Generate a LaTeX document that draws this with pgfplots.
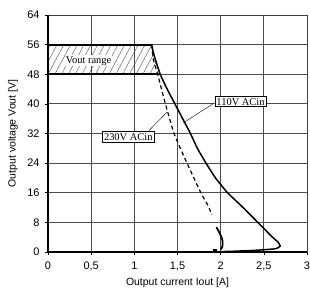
\documentclass[border=0pt]{standalone}
\usepackage{pgfplots}
\pgfplotsset{compat=1.18}
\usepackage{fontspec}
\setmainfont{Liberation Sans}
\newfontfamily\seriffont{Liberation Serif}
\usetikzlibrary{patterns.meta}
\begin{document}
\begin{tikzpicture}
\begin{axis}[
  scale only axis,
  width=259bp, height=237bp,
  xmin=0, xmax=3, ymin=0, ymax=64,
  xtick={0,0.5,...,3}, ytick={0,8,...,64},
  /pgf/number format/use comma,
  /pgf/number format/assume math mode=true,
  ticklabel style={font=\fontsize{11}{12}\selectfont},
  xticklabel style={yshift=-3bp},
  yticklabel style={xshift=-2bp},
  every axis x label/.style={at={(axis description cs:0.5,-0.13)}, anchor=center,
     font=\fontsize{10.5}{12}\selectfont},
  every axis y label/.style={at={(axis description cs:-0.135,0.5)}, anchor=center, rotate=90,
     font=\fontsize{10.5}{12}\selectfont},
  xlabel={Output current Iout [A]},
  ylabel={Output voltage Vout [V]},
  tick align=outside, tick pos=left,
  major tick length=3pt,
  tick style={black, line width=0.6pt},
  grid=major,
  grid style={black!70, line width=0.9pt},
  axis line style={black!75, line width=0.8pt},
  clip=false,
]
% hatched Vout range
\addplot[draw=none, pattern={Lines[angle=62,distance=6pt,line width=0.4pt]}, pattern color=black!70]
  coordinates {(0,48) (1.30,48) (1.23,53) (1.20,56) (0,56)} -- cycle;
% axes thick
\addplot[black, line width=1.6pt] coordinates {(0,0) (3,0)};
\addplot[black, line width=1.2pt] coordinates {(0,0) (0,64)};
% upper and lower limit lines
\addplot[black, line width=1.8pt] coordinates {(0,56) (1.20,56)};
\addplot[black, line width=1.8pt] coordinates {(0,48) (1.30,48)};
% 110V ACin (solid)
\addplot[black, line width=1.5pt, smooth, tension=0.3] coordinates {
 (1.20,56) (1.23,53) (1.30,48) (1.38,44) (1.47,40) (1.56,36) (1.65,32) (1.73,28) (1.83,24)
 (1.94,20) (2.08,16) (2.26,12) (2.43,8) (2.60,4) (2.66,2.8) (2.69,1.6) (2.64,0.9) (2.50,0.6)
 (2.35,0.4) (2.15,0.2) (2.0,0.1)};
% 230V ACin (dashed)
\addplot[black, line width=1.2pt, dash pattern=on 4pt off 3pt, smooth, tension=0.3] coordinates {
 (1.20,56) (1.22,52) (1.27,48) (1.36,40) (1.46,32) (1.61,24) (1.77,16)
 (1.85,12.7) (1.90,10)};
\addplot[black, line width=1.8pt, smooth, tension=0.5] coordinates {
 (1.95,6.7) (1.99,5.0) (2.02,3.2) (2.02,1.5) (2.00,0.7)};
\addplot[black, line width=1.8pt] coordinates {(1.91,0.5) (1.96,0.5)};
% Annotations
\node[font=\seriffont\fontsize{10.5}{12}\selectfont, fill=white, inner sep=1pt]
  at (axis cs:0.47,51.6) {Vout range};
\draw[black, line width=0.4pt] (axis cs:1.57,34.9) -- (axis cs:1.91,40.0);
\node[draw=black, line width=0.7pt, fill=white, inner sep=1.5pt,
  font=\seriffont\fontsize{10.5}{12}\selectfont] at (axis cs:2.23,40.6) {110V ACin};
\draw[black, line width=0.4pt] (axis cs:1.38,37.8) -- (axis cs:1.17,32.8);
\node[draw=black, line width=0.7pt, fill=white, inner sep=1.5pt,
  font=\seriffont\fontsize{10.5}{12}\selectfont] at (axis cs:0.93,31.1) {230V ACin};
\end{axis}
\pgfresetboundingbox
\useasboundingbox ([shift={(-48bp,-40bp)}]current axis.south west) rectangle ([shift={(3bp,15bp)}]current axis.north east);
\end{tikzpicture}
\end{document}
